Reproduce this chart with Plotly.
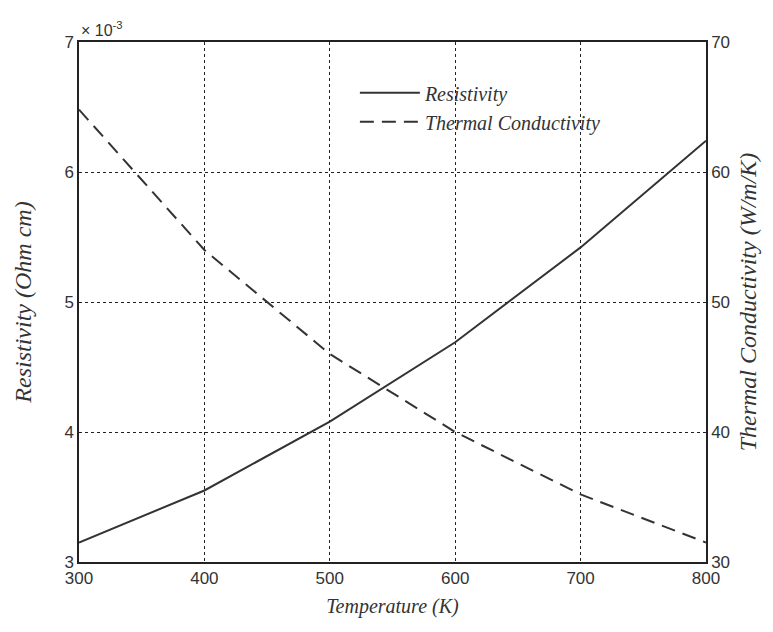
import plotly.graph_objects as go

temperature = [300, 400, 500, 600, 700, 800]
resistivity = [3.15e-3, 3.55e-3, 4.08e-3, 4.69e-3, 5.42e-3, 6.24e-3]
thermal_conductivity = [64.8, 54.0, 46.0, 40.0, 35.2, 31.5]

x_ticks = [300, 400, 500, 600, 700, 800]
y1_ticks = [0.003, 0.004, 0.005, 0.006, 0.007]
y1_ticklabels = ["3", "4", "5", "6", "7"]
y2_ticks = [30, 40, 50, 60, 70]

serif = "Liberation Serif, Times New Roman, serif"
sans = "Liberation Sans, Arial, sans-serif"
line_color = "#333333"

fig = go.Figure()
fig.add_trace(go.Scatter(
    x=temperature, y=resistivity, name="Resistivity", mode="lines",
    line=dict(color=line_color, width=2), yaxis="y"))
fig.add_trace(go.Scatter(
    x=temperature, y=thermal_conductivity, name="Thermal Conductivity", mode="lines",
    line=dict(color=line_color, width=2, dash="14px,8px"), yaxis="y2"))

axis_common = dict(showline=True, linecolor="#222222", linewidth=1.5,
                   tickfont=dict(family=sans, size=17, color="#333333"),
                   zeroline=False)
x_title_font = dict(family=serif, size=20, color="#333333", style="italic")
y_title_font = dict(family=serif, size=24, color="#333333", style="italic")

fig.update_layout(
    width=765, height=624,
    margin=dict(l=71, r=67, t=34, b=70),
    paper_bgcolor="white", plot_bgcolor="white",
    showlegend=True,
    legend=dict(x=0.44, y=0.94, xanchor="left", yanchor="top",
                bgcolor="rgba(0,0,0,0)", borderwidth=0,
                font=dict(family=serif, size=20, color="#333333", style="italic"),
                itemwidth=60, tracegroupgap=0),
    xaxis=dict(range=[300, 800], tickvals=x_ticks, mirror=True,
               showgrid=True, gridcolor="#222222", griddash="dot", gridwidth=1,
               ticks="", ticklen=0,
               title=dict(text="Temperature (K)", font=x_title_font, standoff=12),
               **axis_common),
    yaxis=dict(range=[0.003, 0.007], tickvals=y1_ticks, ticktext=y1_ticklabels,
               showgrid=True, gridcolor="#222222", griddash="dot", gridwidth=1,
               ticks="",
               title=dict(text="Resistivity (Ohm cm)", font=y_title_font, standoff=26),
               **axis_common),
    yaxis2=dict(range=[30, 70], tickvals=y2_ticks, overlaying="y", side="right",
                showgrid=False, ticks="",
                title=dict(text="Thermal Conductivity (W/m/K)", font=y_title_font, standoff=10),
                **axis_common),
    annotations=[dict(text="× 10<sup>-3</sup>", x=0, y=1, xref="paper", yref="paper",
                      xanchor="left", yanchor="bottom", showarrow=False, yshift=1,
                      font=dict(family=sans, size=16, color="#333333"))],
)

fig.write_html("out.html")
